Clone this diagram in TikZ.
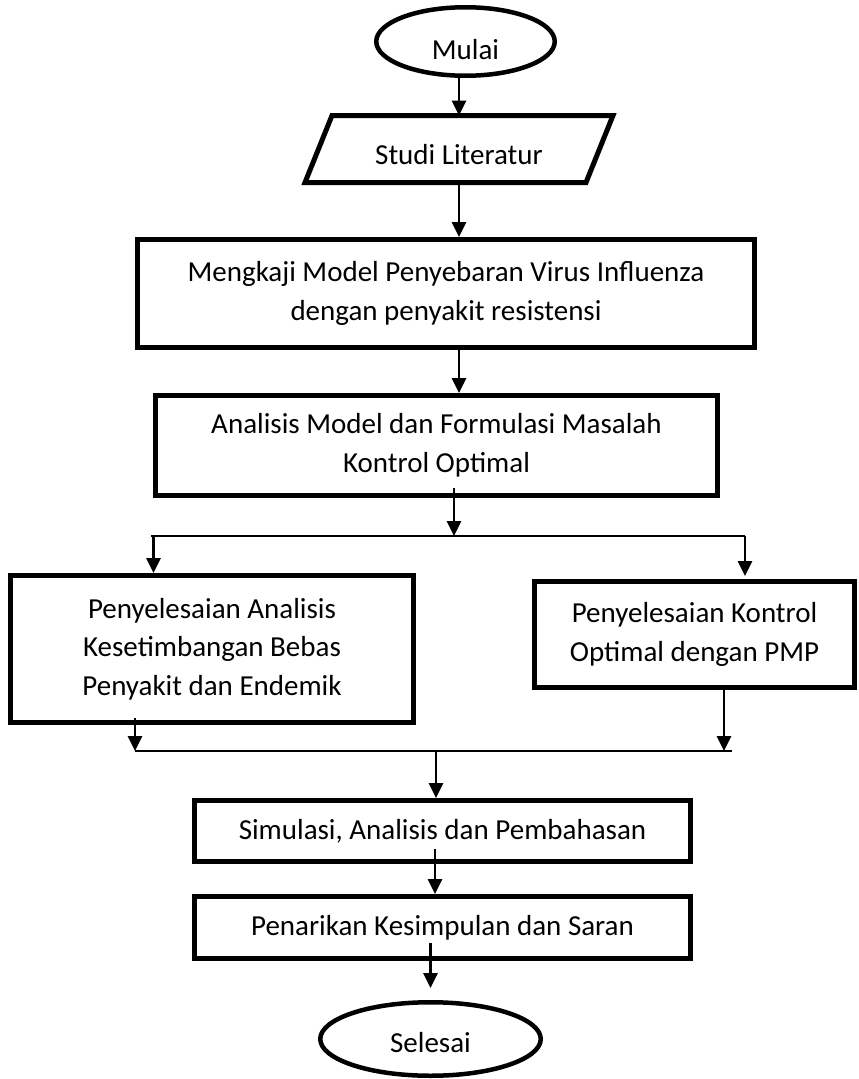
\documentclass[tikz,border=0pt]{standalone}
\usepackage{fontspec}
\setmainfont{Carlito}
\usetikzlibrary{shapes.geometric,arrows.meta}
\begin{document}
\begin{tikzpicture}[x=1pt,y=-1pt,
  every node/.style={font=\fontsize{29}{38.5}\selectfont, inner sep=0pt},
  boxnode/.style={draw, line width=5pt, rectangle, align=center},
  ovalnode/.style={draw, ellipse, line width=4.5pt},
  arr/.style={line width=2.8pt, -{Triangle[width=14pt,length=15pt]}},
  thinline/.style={line width=1.2pt}]
\useasboundingbox (0,0) rectangle (859,1079);

% nodes
\node[ovalnode, minimum width=178.5pt, minimum height=68.5pt] (mulai) at (465.5,41.5) {\raisebox{-17.5pt}[0pt][0pt]{Mulai}};
\node[outer sep=0pt, minimum width=281pt, minimum height=67pt] (studi) at (459,149) {\raisebox{-15pt}[0pt][0pt]{Studi Literatur}};
\draw[line width=5pt, line join=miter] ([xshift=13.5pt]studi.north west) -- ([xshift=13.5pt]studi.north east) -- ([xshift=-13.5pt]studi.south east) -- ([xshift=-13.5pt]studi.south west) -- cycle;
\node[boxnode, minimum width=617pt, minimum height=108pt] (mengkaji) at (446,293.5) {Mengkaji Model Penyebaran Virus Influenza\\dengan penyakit resistensi};
\node[boxnode, minimum width=562pt, minimum height=100pt] (analisis) at (436.5,445.5) {Analisis Model dan Formulasi Masalah\\Kontrol Optimal};
\node[boxnode, minimum width=403pt, minimum height=147pt] (kiri) at (212,649) {Penyelesaian Analisis\\Kesetimbangan Bebas\\Penyakit dan Endemik};
\node[boxnode, minimum width=320pt, minimum height=106pt] (kanan) at (694.5,634.5) {Penyelesaian Kontrol\\Optimal dengan PMP};
\node[boxnode, minimum width=496pt, minimum height=61pt] (simulasi) at (442.5,831) {Simulasi, Analisis dan Pembahasan};
\node[boxnode, minimum width=496pt, minimum height=62pt] (penarikan) at (442.5,927.5) {Penarikan Kesimpulan dan Saran};
\node[ovalnode, minimum width=220.5pt, minimum height=73.5pt] (selesai) at (430.5,1039) {\raisebox{-13.5pt}[0pt][0pt]{Selesai}};

% junction coordinates
\coordinate (sL) at (151,536);
\coordinate (sR) at (745,536);
\coordinate (sC) at (454,536);
\coordinate (mL) at (135,751);
\coordinate (mR) at (732,751);
\coordinate (mK) at (724,751);
\coordinate (mC) at (436,751);

% connectors
\draw[arr] (mulai.south -| studi.north) -- (studi.north);
\draw[arr] (studi.south) -- (studi.south |- mengkaji.north);
\draw[arr] ([xshift=13pt]mengkaji.south) -- ([xshift=13pt]mengkaji.south |- analisis.north);
\draw[arr] ([yshift=10pt]analisis.south -| sC) -- (sC);
\draw[thinline] (sL) -- (sR);
\draw[arr] ([xshift=2.5pt]sL) -- ([xshift=2.5pt]sL |- kiri.north);
\draw[arr, shorten >=3pt] (sR) -- (sR |- kanan.north);
\draw[arr] ([yshift=7pt]kiri.south -| mL) -- (mL);
\draw[arr] (kanan.south -| mK) -- (mK);
\draw[thinline] (mL) -- (mR);
\draw[arr] (mC) -- (mC |- simulasi.north);
\draw[arr] ([xshift=-7.5pt,yshift=15pt]simulasi.south) -- ([xshift=-7.5pt]simulasi.south |- penarikan.north);
\draw[arr, shorten >=12pt] ([yshift=18pt]penarikan.south -| selesai.north) -- (selesai.north);
\end{tikzpicture}
\end{document}
